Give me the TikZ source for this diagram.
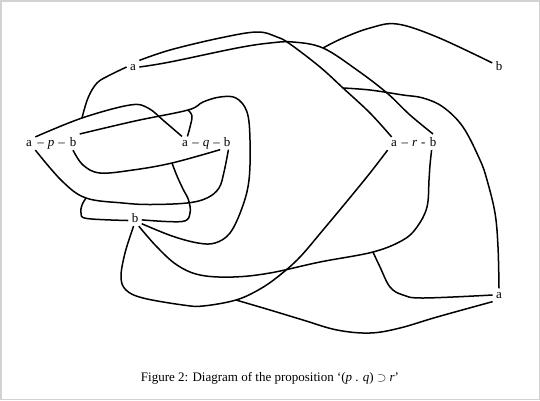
\documentclass[tikz,border=0pt]{standalone}
\usepackage{fontspec}
\setmainfont{Liberation Serif}
\usepackage{tikz}

\newcommand{\poledash}[1]{–\hspace{4pt}#1\hspace{4pt}}

\begin{document}
\begin{tikzpicture}[
  x=1pt, y=-1pt,
  pole/.style={inner sep=1pt, outer sep=2.5pt, anchor=base, font=\fontsize{13}{15}\selectfont},
  dashes/.style={inner sep=0pt, anchor=base, font=\fontsize{13}{15}\selectfont},
  wire/.style={line width=1.5pt, line join=round},
  caption/.style={anchor=base, font=\fontsize{13}{15}\selectfont}
]
\useasboundingbox (0,0) rectangle (540,400);
\draw[gray!35, line width=1.5pt] (0.75,0.75) rectangle (539.25,399.25);

% poles
\node (ta) [pole] at (133,70) {a};
\node (tb) [pole] at (499,70.5) {b};
\node (pa) [pole] at (29,146.5) {a};
\node (pm) [dashes] at (51,146.5) {\poledash{\textit{p}}–};
\node (pb) [pole] at (73,146.5) {b};
\node (qa) [pole] at (185,146) {a};
\node (qm) [dashes] at (206,146) {\poledash{\textit{q}}–};
\node (qb) [pole] at (227,146) {b};
\node (ra) [pole] at (394,146.5) {a};
\node (rm) [dashes] at (413.5,146.5) {\poledash{\textit{r}}-};
\node (rb) [pole] at (433,146.5) {b};
\node (mb) [pole] at (135,222.5) {b};
\node (rA) [pole] at (499,298) {a};

% junctions
\coordinate (jA) at (82,118);
\coordinate (jB) at (188,110);
\coordinate (jC) at (172,163);
\coordinate (jD) at (86,198);
\coordinate (jE) at (236,300);
\coordinate (jF) at (373,252);
\coordinate (jG) at (343,88);
\coordinate (jH) at (323,48);

% connections
\draw[wire] plot[smooth, tension=0.6] coordinates {(ta.west) (110,75) (97,83) (88,98) (jA)};
\draw[wire] plot[smooth, tension=0.6] coordinates {(pa.north east) (jA) (130,105) (148,108) (164,121) (qa.115)};
\draw[wire] plot[smooth, tension=0.6] coordinates {(pb.north east) (135,121) (jB) (203,102) (220,97) (236,98) (247,112) (250,140) (249,180) (242,208) (230,233) (215,243) (198,243) (172,236) (mb.-40)};
\draw[wire] plot[smooth, tension=0.6] coordinates {(qa.70) (190,127) (192,116) (jB)};
\draw[wire] plot[smooth, tension=0.6] coordinates {(pb.south) (83,165) (100,173) (133,170) (jC) (qb.south west)};
\draw[wire] plot[smooth, tension=0.6] coordinates {(qb.-80) (224,172) (219,188) (207,198) (187,203) (150,204.5) (123,203) (jD) (62,181) (pa.south east)};
\draw[wire] plot[smooth, tension=0.6] coordinates {(mb.200) (87,218.5) (81,213) (82,205) (jD)};
\draw[wire] plot[smooth, tension=0.6] coordinates {(mb.-15) (182,221.5) (190,213) (188.5,200) (183,189) (177,176) (jC)};
\draw[wire] plot[smooth, tension=0.6] coordinates {(mb.-100) (125,253) (121,277) (126,290) (143,298) (183,305) (203,306) (jE) (260,289) (280,275) (300,257) (323,230) (348,200) (370,173) (ra.south west)};
\draw[wire] plot[smooth, tension=0.6] coordinates {(rA.south west) (437,317) (400,328) (370,333) (337,330) (303,320) (270,310) (jE)};
\draw[wire] plot[smooth, tension=0.6] coordinates {(mb.-65) (157,247) (177,265) (200,275) (233,277) (270,273) (320,262) (jF) (403,240) (417,227) (427,207) (429,180) (430,165) (rb.-100)};
\draw[wire] plot[smooth, tension=0.6] coordinates {(rA.west) (423,298) (403,295) (390,287) (380,267) (jF)};
\draw[wire] plot[smooth, tension=0.6] coordinates {(rA.north) (498,247) (495,213) (487,180) (480,160) (463,127) (443,107) (423,98) (403,95) (370,90) (jG)};
\draw[wire] plot[smooth, tension=0.6] coordinates {(ta.north east) (170,50) (220,38) (257,32) (277,37) (290,44) (320,67) (jG) (370,113) (ra.110)};
\draw[wire] plot[smooth, tension=0.6] coordinates {(ta.east) (170,62) (237,48) (270,43) (293,42) (jH) (357,70) (387,93) (410,115) (rb.north)};
\draw[wire] plot[smooth, tension=0.6] coordinates {(tb.155) (437,37) (397,24) (370,28) (343,38) (jH)};

\node (cap) [caption] at (270,381) {Figure 2: Diagram of the proposition ‘(\textit{p} . \textit{q}) $\supset$ \textit{r}’};
\end{tikzpicture}
\end{document}
